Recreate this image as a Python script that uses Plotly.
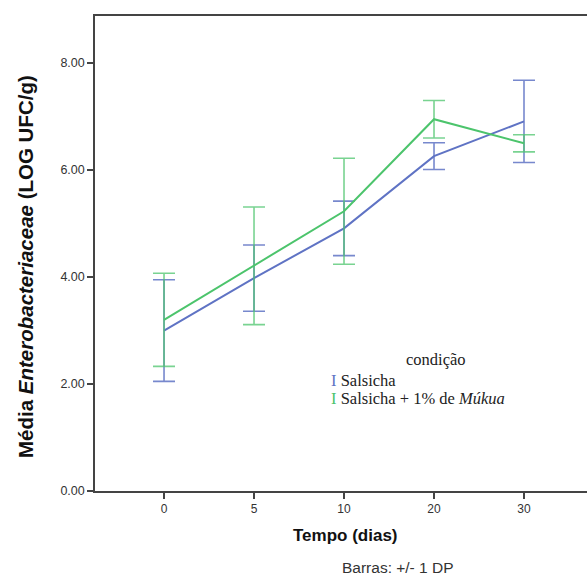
import plotly.graph_objects as go

dias = ["0", "5", "10", "20", "30"]
salsicha_media = [3.00, 3.98, 4.91, 6.26, 6.91]
salsicha_dp = [0.95, 0.62, 0.51, 0.25, 0.77]
mukua_media = [3.20, 4.21, 5.23, 6.95, 6.50]
mukua_dp = [0.87, 1.10, 0.99, 0.35, 0.16]
y_ticks = [0, 2, 4, 6, 8]

blue = "#5F73C4"
green = "#4CC46C"

L, T, W, H = 95, 16, 492, 475  # plot area in px


def px(xp, yp):
    return (xp - L) / W, (T + H - yp) / H


fig = go.Figure()
fig.add_trace(go.Scatter(
    x=dias, y=salsicha_media, mode="lines",
    line=dict(color=blue, width=2),
    error_y=dict(type="data", array=salsicha_dp, visible=True,
                 color="rgba(95,115,196,0.85)", thickness=1.6, width=11),
    name="Salsicha", showlegend=False))
fig.add_trace(go.Scatter(
    x=dias, y=mukua_media, mode="lines",
    line=dict(color=green, width=2),
    error_y=dict(type="data", array=mukua_dp, visible=True,
                 color="rgba(76,196,108,0.75)", thickness=1.6, width=11),
    name="Salsicha + 1% de Múkua", showlegend=False))

fig.update_layout(
    width=587, height=577,
    margin=dict(l=L, r=0, t=T, b=577 - T - H),
    plot_bgcolor="white", paper_bgcolor="white",
    font=dict(family="Liberation Sans, Arial", color="#333333"),
    xaxis=dict(type="category", range=[-0.767, 4.7],
               showline=True, linecolor="#444444", linewidth=1.5, mirror=True,
               ticks="outside", ticklen=6, tickcolor="#444444", tickwidth=1.5,
               showgrid=False, zeroline=False,
               tickfont=dict(size=12, color="#333333")),
    yaxis=dict(range=[0, 8.88], tickvals=y_ticks, tickformat=".2f",
               showline=True, linecolor="#444444", linewidth=1.5,
               ticks="outside", ticklen=6, tickcolor="#444444", tickwidth=1.5,
               showgrid=False, zeroline=False,
               tickfont=dict(size=12.5, color="#333333")),
)

# axis titles
x, y = px(25, 267)
fig.add_annotation(x=x, y=y, xref="paper", yref="paper", textangle=-90,
                   text="<b>Média <i>Enterobacteriaceae</i> (LOG UFC/g)</b>",
                   showarrow=False, xanchor="center", yanchor="middle",
                   font=dict(family="Liberation Sans", size=20.5, color="#111111"))
x, y = px(345, 535)
fig.add_annotation(x=x, y=y, xref="paper", yref="paper", text="<b>Tempo (dias)</b>",
                   showarrow=False, xanchor="center", yanchor="middle",
                   font=dict(size=17, color="#111111"))

serif = "Liberation Serif, Times New Roman"
x, y = px(436, 359)
fig.add_annotation(x=x, y=y, xref="paper", yref="paper", text="condição",
                   showarrow=False, xanchor="center", yanchor="middle",
                   font=dict(family=serif, size=16.5, color="#222222"))
anns = [
    (f"<span style='color:{blue}'>I</span> Salsicha", 380),
    (f"<span style='color:{green}'>I</span> Salsicha + 1% de <i>Múkua</i>", 398),
]
for txt, ypx in anns:
    x, y = px(329, ypx)
    fig.add_annotation(x=x, y=y, xref="paper", yref="paper",
                       text=txt, showarrow=False, xanchor="left", yanchor="middle",
                       font=dict(family=serif, size=16.5, color="#222222"))

x, y = px(398, 567)
fig.add_annotation(x=x, y=y, xref="paper", yref="paper",
                   text="Barras: +/- 1 DP", showarrow=False,
                   xanchor="center", yanchor="middle",
                   font=dict(size=15.5, color="#333333"))

fig.write_html("out.html")
